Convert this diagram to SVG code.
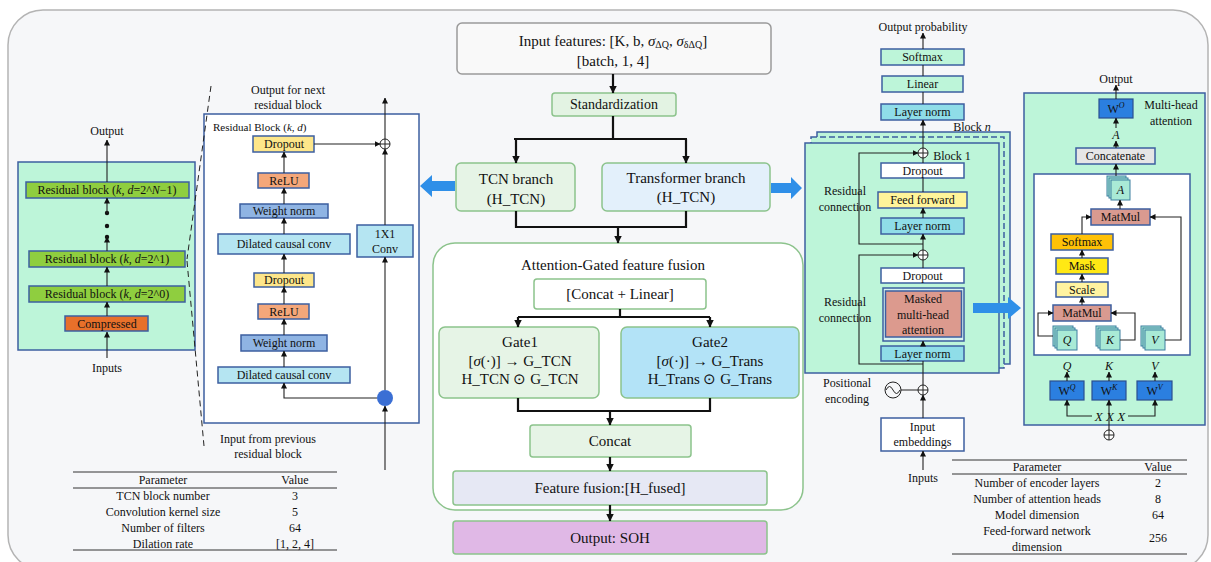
<svg xmlns="http://www.w3.org/2000/svg" width="1211" height="562" viewBox="0 0 1211 562" font-family="'Liberation Serif', 'Times New Roman', serif">
<defs>
<marker id="ah" markerUnits="userSpaceOnUse" markerWidth="6" markerHeight="6" refX="5.5" refY="3" orient="auto"><path d="M0,0 L6,3 L0,6 z" fill="#111"/></marker>
<marker id="ahb" markerUnits="userSpaceOnUse" markerWidth="8" markerHeight="8" refX="7.5" refY="4" orient="auto"><path d="M0,0 L8,4 L0,8 z" fill="#111"/></marker>
</defs>
<style>
text{font-family:'Liberation Serif','Times New Roman',serif}
.t{fill:#111;text-anchor:middle;dominant-baseline:central}
.s12{font-size:12px}.s13{font-size:13px}.s14{font-size:14px}.s15{font-size:15px}.s11{font-size:11px}
.i{font-style:italic}
.bx{stroke:#3d5fa0;stroke-width:1.5}
.gb{stroke:#8cc38c;stroke-width:1.5}
.ln{stroke:#222;stroke-width:1.1;fill:none}
.lk{stroke:#111;stroke-width:2.2;fill:none}
.mint{fill:#bdf5d9}
.ds{stroke:#222;stroke-width:1;stroke-dasharray:6,4;fill:none}
.bl{fill:#2f8fe8}
.wb{fill:#2b7fe0;stroke:#2a4f90;stroke-width:1.2}
.stk{fill:#a9ead6;stroke:#3d7fa0;stroke-width:1}
.rule{stroke:#333;stroke-width:1}
</style>

<rect x="8" y="10" width="1200" height="560" rx="35" fill="#f6f7f9" stroke="#b4b4b4" stroke-width="1.5"/>

<g id="tcn-stack">
<rect x="18" y="162" width="177" height="188" class="mint bx"/>
<text x="107" y="131" class="t s12">Output</text>
<rect x="26" y="182" width="163" height="16" fill="#8fce3f" class="bx"/>
<text x="107" y="190" class="t s12">Residual block (<tspan class="i">k</tspan>, <tspan class="i">d</tspan>=2^<tspan class="i">N</tspan>−1)</text>
<rect x="29" y="251" width="156" height="16" fill="#8fce3f" class="bx"/>
<text x="107" y="259" class="t s12">Residual block (<tspan class="i">k</tspan>, <tspan class="i">d</tspan>=2^1)</text>
<rect x="29" y="286" width="156" height="16" fill="#8fce3f" class="bx"/>
<text x="107" y="294" class="t s12">Residual block (<tspan class="i">k</tspan>, <tspan class="i">d</tspan>=2^0)</text>
<rect x="65" y="316" width="83" height="15" fill="#e8702a" class="bx"/>
<text x="107" y="323.5" class="t s12">Compressed</text>
<text x="107" y="368" class="t s12">Inputs</text>
<circle cx="107" cy="213" r="2.2" fill="#111"/>
<circle cx="107" cy="226" r="2.2" fill="#111"/>
<circle cx="107" cy="237" r="2.2" fill="#111"/>
</g>

<g id="residual-detail">
<rect x="204" y="114" width="215" height="309" fill="#fff" class="bx"/>
<text x="213" y="127" class="t s11" style="text-anchor:start">Residual Block (<tspan class="i">k</tspan>, <tspan class="i">d</tspan>)</text>
<text x="288" y="90" class="t s12">Output for next</text>
<text x="288" y="105" class="t s12">residual block</text>
<rect x="253" y="136" width="61" height="16" fill="#fde68a" class="bx"/>
<text x="284" y="144" class="t s12">Dropout</text>
<rect x="258" y="173" width="51" height="15" fill="#f4a77a" class="bx"/>
<text x="284" y="180.5" class="t s12">ReLU</text>
<rect x="240" y="204" width="88" height="14" fill="#8fb4e3" class="bx"/>
<text x="284" y="211" class="t s12">Weight norm</text>
<rect x="218" y="234" width="132" height="20" fill="#b5e5f2" class="bx"/>
<text x="284" y="244" class="t s12">Dilated causal conv</text>
<rect x="357" y="225" width="56" height="32" fill="#b5e5f2" class="bx"/>
<text x="385" y="234" class="t s12">1X1</text>
<text x="385" y="249" class="t s12">Conv</text>
<rect x="254" y="273" width="60" height="14" fill="#fde68a" class="bx"/>
<text x="284" y="280" class="t s12">Dropout</text>
<rect x="258" y="304" width="51" height="15" fill="#f4a77a" class="bx"/>
<text x="284" y="311.5" class="t s12">ReLU</text>
<rect x="241" y="335" width="86" height="16" fill="#8fb4e3" class="bx"/>
<text x="284" y="343" class="t s12">Weight norm</text>
<rect x="218" y="367" width="132" height="16" fill="#b5e5f2" class="bx"/>
<text x="284" y="375" class="t s12">Dilated causal conv</text>
<circle cx="385" cy="398" r="8" fill="#3b6fd4"/>
<circle cx="385" cy="144" r="5" fill="#fff" stroke="#222" stroke-width="1"/>
<path d="M380,144 H390 M385,139 V149" stroke="#222" stroke-width="1"/>
<text x="268" y="439" class="t s12">Input from previous</text>
<text x="268" y="454" class="t s12">residual block</text>
</g>

<g id="center">
<rect x="457" y="23" width="314" height="51" rx="5" fill="#f9f9f9" stroke="#9a9a9a" stroke-width="1.5"/>
<text x="613" y="41" class="t s15">Input features: [K, b, <tspan class="i">σ</tspan><tspan font-size="10" dy="3">ΔQ</tspan><tspan dy="-3">, </tspan><tspan class="i">σ</tspan><tspan font-size="10" dy="3">δΔQ</tspan><tspan dy="-3">]</tspan></text>
<text x="613" y="61" class="t s15">[batch, 1, 4]</text>
<rect x="552" y="93" width="124" height="23" rx="3" fill="#e3f3e3" class="gb"/>
<text x="614" y="104.5" class="t s14">Standardization</text>
<rect x="456" y="163" width="119" height="48" rx="5" fill="#e6f4e6" class="gb"/>
<text x="516" y="179" class="t s15">TCN branch</text>
<text x="516" y="199" class="t s15">(H_TCN)</text>
<rect x="602" y="163" width="168" height="48" rx="5" fill="#e3f0fb" class="gb"/>
<text x="686" y="178" class="t s15">Transformer branch</text>
<text x="686" y="197" class="t s15">(H_TCN)</text>
<rect x="433" y="243" width="370" height="267" rx="22" fill="#fff" class="gb"/>
<text x="613" y="265" class="t s15">Attention-Gated feature fusion</text>
<rect x="534" y="279" width="172" height="30" rx="3" fill="#fff" class="gb"/>
<text x="620" y="294" class="t s15">[Concat + Linear]</text>
<rect x="439" y="327" width="160" height="71" rx="6" fill="#e6f4e6" class="gb"/>
<text x="520" y="342" class="t s15">Gate1</text>
<text x="520" y="361" class="t s15">[<tspan class="i">σ</tspan>(·)] → G_TCN</text>
<text x="520" y="379" class="t s15">H_TCN ⊙ G_TCN</text>
<rect x="621" y="327" width="178" height="71" rx="6" fill="#b3e3f7" class="gb"/>
<text x="710" y="342" class="t s15">Gate2</text>
<text x="710" y="361" class="t s15">[<tspan class="i">σ</tspan>(·)] → G_Trans</text>
<text x="710" y="379" class="t s15">H_Trans ⊙ G_Trans</text>
<rect x="530" y="425" width="161" height="32" rx="3" fill="#e6f4e6" class="gb"/>
<text x="610" y="441" class="t s15">Concat</text>
<rect x="453" y="471" width="314" height="34" rx="3" fill="#e6e8f4" class="gb"/>
<text x="610" y="488" class="t s15">Feature fusion:[H_fused]</text>
<rect x="453" y="521" width="314" height="33" rx="3" fill="#e0b8e6" class="gb"/>
<text x="610" y="537.5" class="t s15">Output: SOH</text>
</g>

<g id="transformer">
<text x="923" y="27" class="t s12">Output probability</text>
<rect x="881" y="49" width="83" height="16" class="mint bx"/>
<text x="922.5" y="57" class="t s12">Softmax</text>
<rect x="882" y="76" width="81" height="16" class="mint bx"/>
<text x="922.5" y="84" class="t s12">Linear</text>
<rect x="881" y="104" width="83" height="16" fill="#8fdde8" class="bx"/>
<text x="922.5" y="112" class="t s12">Layer norm</text>
<rect x="817" y="132" width="193" height="232" class="mint bx"/>
<rect x="811" y="137" width="193" height="231" class="mint" stroke="#3d5fa0" stroke-width="1.5" stroke-dasharray="6,3"/>
<rect x="805" y="143" width="194" height="230" class="mint bx"/>
<text x="972" y="127" class="t s12">Block <tspan class="i">n</tspan></text>
<text x="952" y="156" class="t s12">Block 1</text>
<rect x="881" y="163" width="83" height="15" fill="#fff" class="bx"/>
<text x="922.5" y="170.5" class="t s12">Dropout</text>
<rect x="878" y="192" width="89" height="16" fill="#fff49a" class="bx"/>
<text x="922.5" y="200" class="t s12">Feed forward</text>
<rect x="881" y="218" width="83" height="16" fill="#8fdde8" class="bx"/>
<text x="922.5" y="226" class="t s12">Layer norm</text>
<rect x="881" y="268" width="83" height="15" fill="#fff" class="bx"/>
<text x="922.5" y="275.5" class="t s12">Dropout</text>
<rect x="883" y="288" width="81" height="53" fill="#d8f3f0" class="bx"/>
<rect x="885.5" y="291" width="76" height="46" fill="#dc9a8e" class="bx"/>
<text x="923" y="299" class="t s12">Masked</text>
<text x="923" y="315" class="t s12">multi-head</text>
<text x="923" y="330" class="t s12">attention</text>
<rect x="881" y="346" width="83" height="15" fill="#8fdde8" class="bx"/>
<text x="922.5" y="353.5" class="t s12">Layer norm</text>
<text x="845" y="191" class="t s12">Residual</text>
<text x="845" y="207" class="t s12">connection</text>
<text x="845" y="302" class="t s12">Residual</text>
<text x="845" y="318" class="t s12">connection</text>
<text x="847" y="383" class="t s12">Positional</text>
<text x="847" y="399" class="t s12">encoding</text>
<circle cx="893" cy="390" r="8" fill="none" stroke="#222" stroke-width="1"/>
<path d="M886,390 q3.5,-7 7,0 t7,0" fill="none" stroke="#222" stroke-width="1"/>
<rect x="881" y="418" width="83" height="33" fill="#fff" class="bx"/>
<text x="922.5" y="427" class="t s12">Input</text>
<text x="922.5" y="442" class="t s12">embeddings</text>
<text x="923" y="478" class="t s12">Inputs</text>
<g fill="#fff" stroke="#222" stroke-width="1">
<circle cx="923" cy="153" r="5"/><circle cx="923" cy="255" r="5"/><circle cx="923" cy="390" r="5"/>
</g>
<path d="M918,153 H928 M923,148 V158 M918,255 H928 M923,250 V260 M918,390 H928 M923,385 V395" stroke="#222" stroke-width="1"/>
</g>

<g id="multihead">
<text x="1116" y="79" class="t s12">Output</text>
<rect x="1024" y="93" width="181" height="332" class="mint bx"/>
<rect x="1099" y="99" width="34" height="19" class="wb"/>
<text x="1116" y="108.5" class="t s12">W<tspan class="i" font-size="8" dy="-4">O</tspan></text>
<text x="1171" y="105" class="t s12">Multi-head</text>
<text x="1171" y="121" class="t s12">attention</text>
<text x="1116" y="135" class="t s12 i">A</text>
<rect x="1076" y="148" width="79" height="16" fill="#e6e6e6" class="bx"/>
<text x="1115.5" y="156" class="t s12">Concatenate</text>
<rect x="1034" y="174" width="156" height="181" fill="#fff" class="bx"/>
<rect x="1107" y="176" width="19" height="20" class="stk"/>
<rect x="1109" y="178" width="19" height="20" class="stk"/>
<rect x="1111" y="180" width="19" height="20" class="stk"/>
<text x="1120.5" y="190" class="t s12 i">A</text>
<rect x="1091" y="209" width="59" height="16" fill="#d99a90" class="bx"/>
<text x="1120.5" y="217" class="t s12">MatMul</text>
<rect x="1051" y="234" width="62" height="16" fill="#ffc107" class="bx"/>
<text x="1082" y="242" class="t s12">Softmax</text>
<rect x="1056" y="258" width="52" height="16" fill="#ffe814" class="bx"/>
<text x="1082" y="266" class="t s12">Mask</text>
<rect x="1056" y="282" width="52" height="15" fill="#fff3a0" class="bx"/>
<text x="1082" y="289.5" class="t s12">Scale</text>
<rect x="1053" y="305" width="58" height="16" fill="#d99a90" class="bx"/>
<text x="1082" y="313" class="t s12">MatMul</text>
<rect x="1053" y="326" width="20" height="20" class="stk"/>
<rect x="1055" y="328" width="20" height="20" class="stk"/>
<rect x="1057" y="330" width="20" height="20" class="stk"/>
<text x="1067" y="340" class="t s12 i">Q</text>
<rect x="1096" y="326" width="20" height="20" class="stk"/>
<rect x="1098" y="328" width="20" height="20" class="stk"/>
<rect x="1100" y="330" width="20" height="20" class="stk"/>
<text x="1110" y="340" class="t s12 i">K</text>
<rect x="1141" y="326" width="20" height="20" class="stk"/>
<rect x="1143" y="328" width="20" height="20" class="stk"/>
<rect x="1145" y="330" width="20" height="20" class="stk"/>
<text x="1155" y="340" class="t s12 i">V</text>
<text x="1067" y="366" class="t s12 i">Q</text>
<text x="1109" y="366" class="t s12 i">K</text>
<text x="1155" y="366" class="t s12 i">V</text>
<rect x="1050" y="381" width="34" height="19" class="wb"/>
<text x="1067" y="390.5" class="t s12">W<tspan class="i" font-size="8" dy="-4">Q</tspan></text>
<rect x="1092" y="381" width="34" height="19" class="wb"/>
<text x="1109" y="390.5" class="t s12">W<tspan class="i" font-size="8" dy="-4">K</tspan></text>
<rect x="1137" y="381" width="35" height="19" class="wb"/>
<text x="1154.5" y="390.5" class="t s12">W<tspan class="i" font-size="8" dy="-4">V</tspan></text>
<text x="1110" y="416" class="t s13 i">X X X</text>
<circle cx="1109" cy="435" r="5" fill="#fff" stroke="#222" stroke-width="1"/>
<path d="M1104,435 H1114 M1109,430 V440" stroke="#222" stroke-width="1"/>
</g>

<g id="connectors">
<path class="ln" marker-end="url(#ah)" d="M107,358 V332"/>
<path class="ln" marker-end="url(#ah)" d="M107,316 V302"/>
<path class="ln" marker-end="url(#ah)" d="M107,286 V267"/>
<path class="ln" marker-end="url(#ah)" d="M107,251 V237"/>
<path class="ln" marker-end="url(#ah)" d="M107,213 V198"/>
<path class="ln" marker-end="url(#ah)" d="M107,182 V140"/>
<path class="ds" d="M211,86 L187,259"/>
<path class="ds" d="M187,261 L204,446"/>
<path class="ln" marker-end="url(#ah)" d="M385,470 V406"/>
<path class="ln" marker-end="url(#ah)" d="M377,398 H284 V383"/>
<path class="ln" marker-end="url(#ah)" d="M385,390 V257"/>
<path class="ln" marker-end="url(#ah)" d="M385,225 V149"/>
<path class="ln" marker-end="url(#ah)" d="M385,139 V98"/>
<path class="ln" marker-end="url(#ah)" d="M314,144 H380"/>
<path class="ln" marker-end="url(#ah)" d="M284,367 V351"/>
<path class="ln" marker-end="url(#ah)" d="M284,335 V319"/>
<path class="ln" marker-end="url(#ah)" d="M284,304 V287"/>
<path class="ln" marker-end="url(#ah)" d="M284,273 V254"/>
<path class="ln" marker-end="url(#ah)" d="M284,234 V218"/>
<path class="ln" marker-end="url(#ah)" d="M284,204 V188"/>
<path class="ln" marker-end="url(#ah)" d="M284,173 V152"/>
<path class="lk" marker-end="url(#ahb)" d="M613,74 V93"/>
<path class="lk" d="M613,116 V139 M514,139 H687"/>
<path class="lk" marker-end="url(#ahb)" d="M516,139 V163"/>
<path class="lk" marker-end="url(#ahb)" d="M686,139 V163"/>
<path class="lk" d="M516,211 V227 H686 V211"/>
<path class="lk" marker-end="url(#ahb)" d="M618,227 V243"/>
<path class="lk" d="M620,309 V317 M518,317 H710"/>
<path class="lk" marker-end="url(#ahb)" d="M518,317 V327"/>
<path class="lk" marker-end="url(#ahb)" d="M710,317 V327"/>
<path class="lk" d="M518,398 V411 H710 V398"/>
<path class="lk" marker-end="url(#ahb)" d="M610,411 V425"/>
<path class="lk" marker-end="url(#ahb)" d="M610,457 V471"/>
<path class="lk" marker-end="url(#ahb)" d="M610,505 V521"/>
<polygon class="bl" points="455,181 432,181 432,175 420,186 432,197 432,191 455,191"/>
<polygon class="bl" points="771,183 791,183 791,177 802,188 791,199 791,193 771,193"/>
<polygon class="bl" points="973,303 1008,303 1008,297 1021,308 1008,319 1008,313 973,313"/>
<path class="ln" marker-end="url(#ah)" d="M923,49 V33"/>
<path class="ln" d="M923,76 V65 M923,104 V92"/>
<path class="ln" marker-end="url(#ah)" d="M923,148 V120"/>
<path class="ln" d="M923,163 V158 M923,192 V178"/>
<path class="ln" marker-end="url(#ah)" d="M923,218 V208"/>
<path class="ln" marker-end="url(#ah)" d="M923,250 V234"/>
<path class="ln" marker-end="url(#ah)" d="M923,244 H859 V153 H918"/>
<path class="ln" d="M923,268 V260"/>
<path class="ln" marker-end="url(#ah)" d="M923,346 V341"/>
<path class="ln" marker-end="url(#ah)" d="M923,364 H859 V255 H918"/>
<path class="ln" d="M923,385 V361 M901,390 H918"/>
<path class="ln" marker-end="url(#ah)" d="M923,418 V395"/>
<path class="ln" marker-end="url(#ah)" d="M923,470 V451"/>
<path class="ln" marker-end="url(#ah)" d="M1116,99 V85"/>
<path class="ln" marker-end="url(#ah)" d="M1116,128 V118"/>
<path class="ln" marker-end="url(#ah)" d="M1116,148 V141"/>
<path class="ln" marker-end="url(#ah)" d="M1116,176 V164"/>
<path class="ln" marker-end="url(#ah)" d="M1120,209 V200"/>
<path class="ln" marker-end="url(#ah)" d="M1082,234 V217 H1091"/>
<path class="ln" marker-end="url(#ah)" d="M1165,340 H1181 V217 H1150"/>
<path class="ln" marker-end="url(#ah)" d="M1082,258 V250"/>
<path class="ln" marker-end="url(#ah)" d="M1082,282 V274"/>
<path class="ln" marker-end="url(#ah)" d="M1082,305 V297"/>
<path class="ln" marker-end="url(#ah)" d="M1053,336 H1038 V313 H1053"/>
<path class="ln" marker-end="url(#ah)" d="M1120,340 H1135 V313 H1111"/>
<path class="ln" marker-end="url(#ah)" d="M1067,381 V372"/>
<path class="ln" marker-end="url(#ah)" d="M1109,381 V372"/>
<path class="ln" marker-end="url(#ah)" d="M1155,381 V372"/>
<path class="ln" marker-end="url(#ah)" d="M1092,416 H1067 V400"/>
<path class="ln" marker-end="url(#ah)" d="M1128,416 H1155 V400"/>
<path class="ln" marker-end="url(#ah)" d="M1109,430 V400"/>
</g>

<g id="table-tcn">
<path class="rule" d="M73,472 H337 M73,488 H337 M73,550 H337"/>
<text x="163" y="480" class="t s12">Parameter</text>
<text x="295" y="480" class="t s12">Value</text>
<text x="163" y="496" class="t s12">TCN block number</text><text x="295" y="496" class="t s12">3</text>
<text x="163" y="512" class="t s12">Convolution kernel size</text><text x="295" y="512" class="t s12">5</text>
<text x="163" y="528" class="t s12">Number of filters</text><text x="295" y="528" class="t s12">64</text>
<text x="163" y="544" class="t s12">Dilation rate</text><text x="295" y="544" class="t s12">[1, 2, 4]</text>
</g>

<g id="table-transformer">
<path class="rule" d="M952,460 H1187 M952,474 H1187 M952,554 H1187"/>
<text x="1037" y="467" class="t s12">Parameter</text>
<text x="1158" y="467" class="t s12">Value</text>
<text x="1037" y="483" class="t s12">Number of encoder layers</text><text x="1158" y="483" class="t s12">2</text>
<text x="1037" y="499" class="t s12">Number of attention heads</text><text x="1158" y="499" class="t s12">8</text>
<text x="1037" y="515" class="t s12">Model dimension</text><text x="1158" y="515" class="t s12">64</text>
<text x="1037" y="531" class="t s12">Feed-forward network</text><text x="1158" y="538" class="t s12">256</text>
<text x="1037" y="547" class="t s12">dimension</text>
</g>
</svg>
